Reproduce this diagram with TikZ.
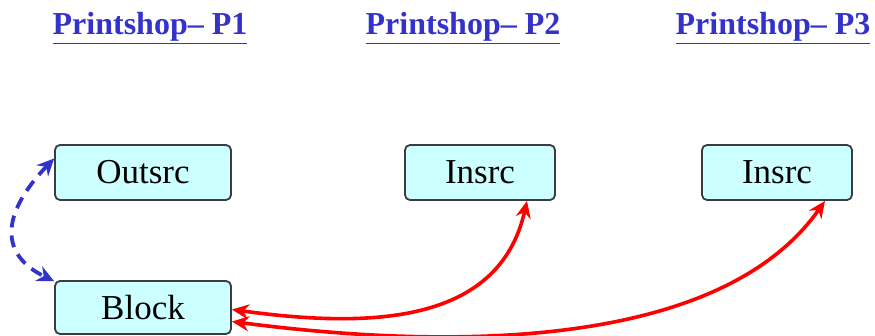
\documentclass[tikz,border=0pt]{standalone}
\usepackage{fontspec}
\setmainfont{Liberation Serif}
\usetikzlibrary{arrows.meta}
\definecolor{titleblue}{RGB}{51,51,204}
\definecolor{boxfill}{RGB}{204,255,255}
\definecolor{boxline}{RGB}{60,60,60}
\tikzset{
  ttl/.style={text=titleblue, font=\bfseries\fontsize{32}{36}\selectfont, anchor=base},
  srcbox/.style={draw=boxline, line width=1.8pt, fill=boxfill, rounded corners=5pt, font=\fontsize{35}{38}\selectfont, inner sep=0pt},
  redarr/.style={draw=red, line width=3.6pt, {Stealth[length=17pt,width=15pt]}-{Stealth[length=17pt,width=15pt]}},
  bluearr/.style={draw=titleblue, line width=3.8pt, dash pattern=on 12pt off 8pt, {Stealth[length=17pt,width=16pt]}-{Stealth[length=17pt,width=16pt]}}
}
\begin{document}
\begin{tikzpicture}[x=1pt,y=-1pt]
\useasboundingbox (0,0) rectangle (875,336);
\node[ttl] (t1) at (150,35) {\underline{Printshop– P1}};
\node[ttl] (t2) at (463,35) {\underline{Printshop– P2}};
\node[ttl] (t3) at (773,35) {\underline{Printshop– P3}};
\node[srcbox, minimum width=176pt, minimum height=55pt] (out) at (143,172.5) {Outsrc};
\node[srcbox, minimum width=176pt, minimum height=53pt] (blk) at (143,307.5) {Block};
\node[srcbox, minimum width=150pt, minimum height=55pt] (in2) at (480,172.5) {Insrc};
\node[srcbox, minimum width=150pt, minimum height=55pt] (in3) at (777,172.5) {Insrc};
\coordinate (b1) at ([yshift=-2pt]blk.east);
\coordinate (b2) at ([yshift=-14pt]blk.east);
\draw[redarr] (b1) .. controls (380,330) and (500,320) .. ([xshift=47pt]in2.south);
\draw[redarr] (b2) .. controls (450,350) and (720,350) .. ([xshift=48pt]in3.south);
\draw[bluearr] ([yshift=14pt]out.west) .. controls (0,215) and (0,255) .. ([yshift=-1pt]blk.north west);
\end{tikzpicture}
\end{document}
